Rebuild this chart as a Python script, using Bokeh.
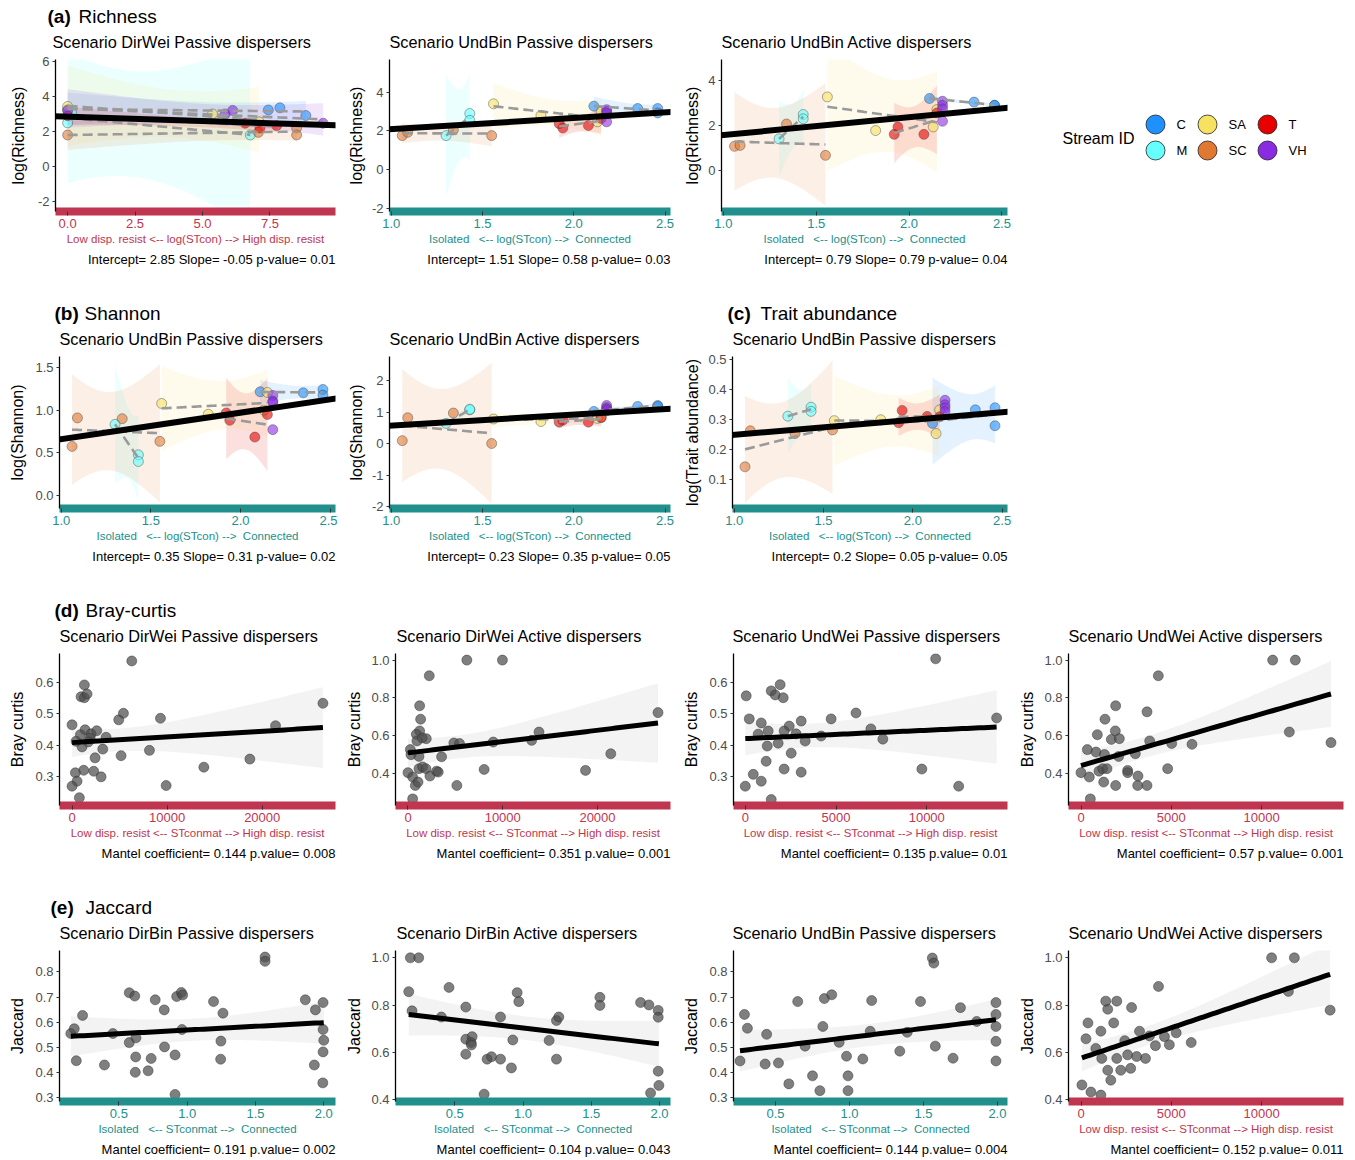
import numpy as np
from bokeh.plotting import figure
from bokeh.models import Range1d, FixedTicker, Title, Label, Slope, PrintfTickFormatter, Spacer
from bokeh.layouts import column, row
from bokeh.embed import file_html
from bokeh.resources import INLINE
from bokeh.core.properties import value

# ---------------- data ----------------
streams = ["C", "M", "SA", "SC", "T", "VH"]
stream_colors = ["#1E90FF", "#66FFFF", "#F7E160", "#E07832", "#E60000", "#8A2BE2"]

# UndBin scenario sites: stream and log(STcon)
und_stream = ["SC"] * 4 + ["M"] * 3 + ["SA"] * 4 + ["T"] * 4 + ["C"] * 4 + ["VH"] * 4
und_logstcon = [1.06, 1.09, 1.34, 1.55, 1.30, 1.43, 1.43, 1.56, 1.82, 2.13, 2.15,
                1.92, 1.94, 2.08, 2.15, 2.11, 2.35, 2.46, 2.46, 2.18, 2.18, 2.18, 2.18]
rich_und_passive = [1.76, 1.93, 2.05, 1.76, 1.76, 2.90, 2.55, 3.40, 2.80, 2.47, 2.97,
                    2.38, 2.15, 2.28, 2.64, 3.28, 3.16, 3.16, 2.93, 3.10, 3.00, 2.90, 2.47]
rich_und_active = [1.08, 1.12, 2.07, 0.68, 1.41, 2.49, 2.30, 3.27, 1.78, 1.94, 2.71,
                   1.61, 1.94, 1.61, 2.56, 3.20, 3.04, 2.90, 2.90, 3.08, 2.90, 2.74, 2.19]
shan_und_passive = [0.576, 0.909, 0.900, 0.635, 0.834, 0.478, 0.400, 1.077, 0.952, 1.000, 1.206,
                    0.967, 0.881, 0.685, 0.948, 1.214, 1.202, 1.241, 1.175, 1.171, 1.105, 1.090, 0.772]
shan_und_active = [0.10, 0.83, 0.98, 0.01, 0.65, 1.08, 1.10, 0.79, 0.71, 0.81, 0.85,
                   0.69, 0.75, 0.69, 0.83, 1.03, 1.19, 1.22, 1.19, 1.22, 1.15, 1.10, 1.05]
trait_und_passive = [0.143, 0.263, 0.254, 0.266, 0.312, 0.342, 0.328, 0.297, 0.300, 0.254, 0.333,
                     0.290, 0.331, 0.311, 0.310, 0.288, 0.333, 0.340, 0.280, 0.365, 0.350, 0.340, 0.328]

# DirWei scenario sites
dir_stream = ["C"] * 4 + ["M"] * 3 + ["SA"] * 3 + ["SC"] * 4 + ["T"] * 4 + ["VH"] * 4
dir_logstcon = [0.0, 7.44, 7.87, 8.83, 0.0, 0.15, 6.77, 0.0, 5.37, 7.10,
                0.0, 7.07, 8.49, 8.49, 0.0, 6.58, 7.13, 7.75, 0.0, 5.84, 6.12, 9.47]
rich_dir_passive = [3.25, 3.23, 3.35, 2.91, 2.49, 3.05, 1.80, 3.43, 3.00, 2.55,
                    1.80, 1.95, 2.20, 1.80, 2.90, 2.47, 2.20, 2.33, 3.20, 3.00, 3.20, 2.47]

# model lines reported in the panels
model_intercepts = [2.85, 1.51, 0.79, 0.35, 0.23, 0.2]
model_slopes = [-0.05, 0.58, 0.79, 0.31, 0.35, 0.05]
model_pvalues = [0.01, 0.03, 0.04, 0.02, 0.05, 0.05]

# Bray-curtis vs STconmat
bc_dirwei_pas_x = [6281, 0, 1298, 947, 1298, 1579, 1368, 877, 1053, 2000, 2596, 1900, 3579, 3228, 2421, 2281, 1228,
                   351, 526, 0, 772, 3053, 4912, 5404, 5158, 8140, 9298, 9895, 13860, 18700, 21400, 26386, 421, 1700]
bc_dirwei_pas_y = [0.670, 0.465, 0.593, 0.555, 0.552, 0.564, 0.449, 0.433, 0.394, 0.436, 0.446, 0.422, 0.425, 0.387,
                   0.359, 0.316, 0.319, 0.311, 0.284, 0.268, 0.231, 0.298, 0.481, 0.502, 0.366, 0.383, 0.486, 0.270,
                   0.329, 0.355, 0.462, 0.534, 0.412, 0.410]
bc_dirwei_act_x = [6211, 9965, 2246, 1228, 1333, 1228, 877, 947, 1509, 1930, 246, 316, 1158, 3544, 0, 491, 772, 1053,
                   1158, 1544, 1895, 2316, 3018, 3193, 491, 4842, 5439, 5158, 8035, 13053, 13825, 18737, 21403, 26386, 9000]
bc_dirwei_act_y = [1.0, 1.0, 0.917, 0.758, 0.687, 0.625, 0.607, 0.572, 0.588, 0.584, 0.526, 0.499, 0.490, 0.488,
                   0.404, 0.381, 0.336, 0.354, 0.425, 0.434, 0.425, 0.386, 0.412, 0.407, 0.265, 0.561, 0.558, 0.336,
                   0.421, 0.575, 0.619, 0.416, 0.504, 0.722, 0.566]
bc_undwei_pas_x = [10490, 50, 1430, 1920, 1650, 2090, 220, 880, 1260, 2420, 3080, 6100, 4730, 4180, 3300, 2800, 1810,
                   1210, 2530, 1150, 2140, 0, 440, 880, 3080, 1430, 13850, 11760, 9730, 7580, 6920, 2140, 710]
bc_undwei_pas_y = [0.677, 0.558, 0.574, 0.594, 0.561, 0.552, 0.484, 0.471, 0.445, 0.461, 0.477, 0.503, 0.484, 0.429,
                   0.413, 0.436, 0.406, 0.397, 0.374, 0.348, 0.323, 0.268, 0.306, 0.284, 0.313, 0.225, 0.487, 0.268,
                   0.323, 0.419, 0.452, 0.445, 0.435]
bc_undwei_act_x = [10609, 11863, 4280, 1919, 1328, 1900, 904, 1679, 2122, 350, 830, 1300, 2085, 0, 461, 517, 1255,
                   1919, 3137, 3653, 996, 1199, 1439, 2583, 2583, 3155, 4797, 3801, 3653, 5018, 6144, 3007, 11531, 13838]
bc_undwei_act_y = [1.0, 1.0, 0.917, 0.758, 0.687, 0.625, 0.605, 0.580, 0.584, 0.526, 0.513, 0.500, 0.490, 0.404,
                   0.381, 0.265, 0.354, 0.336, 0.336, 0.336, 0.412, 0.425, 0.425, 0.416, 0.404, 0.386, 0.425, 0.572,
                   0.726, 0.558, 0.554, 0.504, 0.619, 0.563]

# Jaccard vs STconmat
jac_dirbin_pas_x = [0.148, 0.173, 0.234, 0.188, 0.394, 0.456, 0.576, 0.576, 0.616, 0.625, 0.623, 0.620, 0.714, 0.736,
                    0.766, 0.832, 0.834, 0.911, 0.911, 0.923, 0.957, 0.967, 1.193, 1.247, 1.245, 1.262, 1.570, 1.570,
                    1.865, 1.939, 1.931, 1.995, 1.995, 2.0, 1.995, 1.993, 0.962]
jac_dirbin_pas_y = [0.555, 0.574, 0.627, 0.447, 0.430, 0.555, 0.519, 0.717, 0.704, 0.538, 0.462, 0.401, 0.407, 0.456,
                    0.689, 0.649, 0.502, 0.470, 0.313, 0.702, 0.718, 0.708, 0.682, 0.525, 0.453, 0.636, 0.859, 0.842,
                    0.689, 0.649, 0.430, 0.678, 0.571, 0.528, 0.482, 0.359, 0.571]
jac_dirbin_act_x = [0.175, 0.236, 0.163, 0.187, 0.458, 0.402, 0.581, 0.581, 0.581, 0.627, 0.620, 0.622, 0.737, 0.769,
                    0.835, 0.835, 0.715, 0.925, 0.915, 0.957, 0.969, 1.191, 1.245, 1.262, 1.245, 1.563, 1.563, 1.861,
                    1.922, 1.934, 1.990, 1.990, 1.990, 1.995]
jac_dirbin_act_y = [1.0, 1.0, 0.857, 0.776, 0.875, 0.750, 0.792, 0.656, 0.593, 0.667, 0.642, 0.632, 0.572, 0.582,
                    0.750, 0.572, 0.424, 0.653, 0.535, 0.853, 0.815, 0.651, 0.735, 0.750, 0.572, 0.833, 0.799, 0.811,
                    0.801, 0.429, 0.778, 0.749, 0.521, 0.461]
jac_undbin_pas_x = [0.29, 0.31, 0.44, 0.26, 0.43, 0.65, 0.83, 0.88, 1.15, 1.14, 1.48, 1.56, 1.57, 1.58, 1.70, 1.99,
                    1.99, 1.99, 1.99, 1.99, 0.98, 0.99, 0.99, 0.70, 0.82, 0.93, 1.09, 1.34, 1.39, 0.75, 0.59, 0.52,
                    1.75, 1.86, 0.80]
jac_undbin_pas_y = [0.631, 0.576, 0.552, 0.446, 0.434, 0.682, 0.694, 0.709, 0.686, 0.564, 0.682, 0.855, 0.835, 0.505,
                    0.457, 0.678, 0.631, 0.583, 0.524, 0.446, 0.465, 0.387, 0.328, 0.505, 0.583, 0.520, 0.454, 0.485,
                    0.560, 0.387, 0.355, 0.438, 0.658, 0.603, 0.328]
jac_undwei_act_x = [10550, 11810, 11480, 13790, 4290, 1980, 1480, 2800, 1810, 385, 1100, 3240, 3790, 2420, 6100, 820,
                    1150, 1980, 1480, 2200, 2580, 3570, 4620, 5270, 50, 550, 1100, 2750, 4120, 1650, 3080, 4890, 275, 1370]
jac_undwei_act_y = [1.0, 1.0, 0.858, 0.779, 0.879, 0.817, 0.783, 0.790, 0.725, 0.725, 0.690, 0.690, 0.670, 0.650,
                    0.642, 0.617, 0.575, 0.575, 0.525, 0.525, 0.590, 0.575, 0.667, 0.683, 0.463, 0.433, 0.420, 0.533,
                    0.629, 0.483, 0.583, 0.633, 0.658, 0.817]

mantel_r = [0.144, 0.351, 0.135, 0.57, 0.191, 0.104, 0.144, 0.152]
mantel_p = ["0.008", "0.001", "0.01", "0.001", "0.002", "0.043", "0.004", "0.011"]

# panel headers and scenario titles
header_tags = ["(a)", "(b)", "(c)", "(d)", "(e)"]
header_names = ["Richness", "Shannon", "Trait abundance", "Bray-curtis", "Jaccard"]
titles_a = ["Scenario DirWei Passive dispersers", "Scenario UndBin Passive dispersers",
            "Scenario UndBin Active dispersers"]
titles_b = ["Scenario UndBin Passive dispersers", "Scenario UndBin Active dispersers",
            "Scenario UndBin Passive dispersers"]
titles_d = ["Scenario DirWei Passive dispersers", "Scenario DirWei Active dispersers",
            "Scenario UndWei Passive dispersers", "Scenario UndWei Active dispersers"]
titles_e = ["Scenario DirBin Passive dispersers", "Scenario DirBin Active dispersers",
            "Scenario UndBin Passive dispersers", "Scenario UndWei Active dispersers"]

# ---------------- style ----------------
FONT = "Liberation Sans"
CRIMSON = "#C0354F"
TEAL = "#21908C"
W = 337
STRIP = 52
H = 245
H_LAST = 216
FTOP = 7
FBOT = 159
FBOT_LAST = 158
T_Q = {1: 12.706, 2: 4.303, 3: 3.182, 4: 2.776, 5: 2.571, 6: 2.447}
NB = "\u00a0"

XLAB_RES_LOG = "Low disp. resist <-- log(STcon) --> High disp. resist"
XLAB_CON_LOG = "Isolated" + NB + NB + " <-- log(STcon) -->" + NB + " Connected"
XLAB_RES_MAT = "Low disp. resist <-- STconmat --> High disp. resist"
XLAB_CON_MAT = "Isolated" + NB + NB + " <-- STconmat -->" + NB + " Connected"


def lm_band(x, y, n_pts=60):
    x = np.asarray(x, float)
    y = np.asarray(y, float)
    n = len(x)
    xbar = x.mean()
    sxx = ((x - xbar) ** 2).sum()
    if n < 3 or sxx < 1e-9:
        return None
    b = ((x - xbar) * (y - y.mean())).sum() / sxx
    a = y.mean() - b * xbar
    df = n - 2
    s = np.sqrt(((y - a - b * x) ** 2).sum() / df)
    t = T_Q.get(df, 2.035)
    xs = np.linspace(x.min(), x.max(), n_pts)
    fit = a + b * xs
    se = s * np.sqrt(1.0 / n + (xs - xbar) ** 2 / sxx)
    return xs, fit, fit - t * se, fit + t * se


def base_fig(height, fbot, left, right, xr, yr, xticks, yticks, xfmt, yfmt,
             ylabel, ylab_sd, xlabel, xcolor, note):
    p = figure(width=W, height=height, x_range=Range1d(*xr), y_range=Range1d(*yr),
               output_backend="svg", toolbar_location=None, title=None,
               min_border_left=left, min_border_right=right, min_border_top=FTOP,
               min_border_bottom=height - fbot)
    p.outline_line_color = None
    p.grid.visible = False
    p.background_fill_color = "white"

    xa = p.xaxis[0]
    xa.ticker = FixedTicker(ticks=xticks)
    xa.formatter = PrintfTickFormatter(format=xfmt)
    xa.axis_line_color = xcolor
    xa.axis_line_width = 8
    xa.major_tick_line_color = "#333333"
    xa.major_tick_out = 4
    xa.major_tick_in = 0
    xa.minor_tick_line_color = None
    xa.major_label_text_color = xcolor
    xa.major_label_text_font = FONT
    xa.major_label_text_font_size = "13px"
    xa.major_label_standoff = 3
    xa.axis_label = xlabel
    xa.axis_label_text_color = xcolor
    xa.axis_label_text_font = FONT
    xa.axis_label_text_font_size = "11.5px"
    xa.axis_label_text_font_style = "normal"
    xa.axis_label_standoff = 2

    ya = p.yaxis[0]
    ya.ticker = FixedTicker(ticks=yticks)
    ya.formatter = PrintfTickFormatter(format=yfmt)
    ya.axis_line_color = "black"
    ya.axis_line_width = 1.3
    ya.major_tick_line_color = "#333333"
    ya.major_tick_out = 3
    ya.major_tick_in = 0
    ya.minor_tick_line_color = None
    ya.major_label_text_color = "#4D4D4D"
    ya.major_label_text_font = FONT
    ya.major_label_text_font_size = "13px"
    ya.major_label_standoff = 3
    ya.axis_label = ylabel
    ya.axis_label_text_color = "black"
    ya.axis_label_text_font = FONT
    ya.axis_label_text_font_size = "16px"
    ya.axis_label_text_font_style = "normal"
    ya.axis_label_standoff = ylab_sd

    p.add_layout(Title(text=note, align="right", text_font=FONT, text_font_size="13px",
                       text_font_style="normal", text_color="black", standoff=4), "below")
    return p


def header_strip(heads, subs, sub_x):
    s = figure(width=4 * W, height=STRIP, x_range=Range1d(0, 4 * W), y_range=Range1d(STRIP, 0),
               output_backend="svg", toolbar_location=None, min_border=0, title=None,
               x_axis_location=None, y_axis_location=None)
    s.outline_line_color = None
    s.grid.visible = False
    for k, tag_x, name_x in heads:
        s.add_layout(Label(x=tag_x, y=16, text=header_tags[k], text_font=FONT, text_font_style="bold",
                           text_font_size="19px", text_baseline="middle", text_color="black"))
        s.add_layout(Label(x=name_x, y=16, text=header_names[k], text_font=FONT, text_font_style="normal",
                           text_font_size="19px", text_baseline="middle", text_color="black"))
    for txt, x in zip(subs, sub_x):
        s.add_layout(Label(x=x, y=41, text=txt, text_font=FONT, text_font_style="normal",
                           text_font_size="16.3px", text_baseline="middle", text_color="black"))
    return s


def draw_streams(p, sid, xs, ys, k):
    sid = np.asarray(sid)
    xs = np.asarray(xs, float)
    ys = np.asarray(ys, float)
    fits = []
    for s, col in zip(streams, stream_colors):
        m = sid == s
        band = lm_band(xs[m], ys[m])
        if band is not None:
            p.varea(x=band[0], y1=band[2], y2=band[3], fill_color=col, fill_alpha=0.12)
            fits.append(band)
    for s, col in zip(streams, stream_colors):
        m = sid == s
        p.scatter(xs[m], ys[m], size=10, fill_color=col, fill_alpha=0.6,
                  line_color="#404040", line_alpha=0.55, line_width=0.8)
    for band in fits:
        p.line(band[0], band[1], line_color="#9A9A9A", line_width=2.6, line_dash="10 5")
    p.add_layout(Slope(gradient=model_slopes[k], y_intercept=model_intercepts[k],
                       line_color="black", line_width=6))


def draw_gray(p, x, y):
    band = lm_band(x, y)
    p.varea(x=band[0], y1=band[2], y2=band[3], fill_color="#9A9A9A", fill_alpha=0.12)
    p.scatter(x, y, size=10, fill_color="#4D4D4D", fill_alpha=0.72,
              line_color="#333333", line_alpha=0.6, line_width=0.8)
    p.line(band[0], band[1], line_color="black", line_width=5)


def lm_note(k):
    return "Intercept= %s Slope= %s p-value= %s" % (model_intercepts[k], model_slopes[k], model_pvalues[k])


def mantel_note(k):
    return "Mantel coefficient= %s p.value= %s" % (mantel_r[k], mantel_p[k])


UND_XR = (0.99, 2.53)
UND_XT = [1.0, 1.5, 2.0, 2.5]

# ---------------- row (a) ----------------
a1 = base_fig(H, FBOT, 55, 2, (-0.45, 9.93), (-2.57, 6.11), [0, 2.5, 5, 7.5], [-2, 0, 2, 4, 6], "%.1f", "%d",
              "log(Richness)", 8, XLAB_RES_LOG, CRIMSON, lm_note(0))
draw_streams(a1, dir_stream, dir_logstcon, rich_dir_passive, 0)

a2 = base_fig(H, FBOT, 52, 4, UND_XR, (-2.16, 5.69), UND_XT, [-2, 0, 2, 4], "%.1f", "%d",
              "log(Richness)", 4, XLAB_CON_LOG, TEAL, lm_note(1))
draw_streams(a2, und_stream, und_logstcon, rich_und_passive, 1)

a3 = base_fig(H, FBOT, 47, 4, UND_XR, (-1.81, 4.93), UND_XT, [0, 2, 4], "%.1f", "%d",
              "log(Richness)", 4, XLAB_CON_LOG, TEAL, lm_note(2))
draw_streams(a3, und_stream, und_logstcon, rich_und_active, 2)

# legend panel (coordinates in page pixels)
leg_x = [1155, 1155, 1207, 1207, 1267, 1267]
leg_y = [124, 150, 124, 150, 124, 150]
leg = figure(width=W, height=H, x_range=Range1d(3 * W, 4 * W), y_range=Range1d(STRIP + FBOT, STRIP + FTOP),
             output_backend="svg", toolbar_location=None, min_border_left=0, min_border_right=0,
             min_border_top=FTOP, min_border_bottom=H - FBOT, title=None,
             x_axis_location=None, y_axis_location=None)
leg.outline_line_color = None
leg.grid.visible = False
leg.scatter(leg_x, leg_y, size=19, fill_color=stream_colors, line_color="#222222", line_width=0.8)
leg.text([x + 21 for x in leg_x], leg_y, text=streams, text_font=value(FONT), text_font_size="13px",
         text_baseline="middle", text_color="black")
leg.add_layout(Label(x=1062, y=138, text="Stream ID", text_font=FONT, text_font_size="16px",
                     text_baseline="middle", text_color="black"))

# ---------------- row (b)/(c) ----------------
b1 = base_fig(H, FBOT, 59, 2, UND_XR, (-0.149, 1.626), UND_XT, [0.0, 0.5, 1.0, 1.5], "%.1f", "%.1f",
              "log(Shannon)", 6, XLAB_CON_LOG, TEAL, lm_note(3))
draw_streams(b1, und_stream, und_logstcon, shan_und_passive, 3)

b2 = base_fig(H, FBOT, 52, 4, UND_XR, (-2.06, 2.78), UND_XT, [-2, -1, 0, 1, 2], "%.1f", "%d",
              "log(Shannon)", 4, XLAB_CON_LOG, TEAL, lm_note(4))
draw_streams(b2, und_stream, und_logstcon, shan_und_active, 4)

c1 = base_fig(H, FBOT, 58, 4, UND_XR, (0.004, 0.511), UND_XT, [0.1, 0.2, 0.3, 0.4, 0.5], "%.1f", "%.1f",
              "log(Trait abundance)", 4, XLAB_CON_LOG, TEAL, lm_note(5))
draw_streams(c1, und_stream, und_logstcon, trait_und_passive, 5)

# ---------------- row (d) ----------------
d_yr_p = (0.206, 0.694)
d_yr_a = (0.23, 1.035)
d1 = base_fig(H, FBOT, 59, 2, (-1319, 27705), d_yr_p, [0, 10000, 20000], [0.3, 0.4, 0.5, 0.6], "%d", "%.1f",
              "Bray curtis", 6, XLAB_RES_MAT, CRIMSON, mantel_note(0))
draw_gray(d1, bc_dirwei_pas_x, bc_dirwei_pas_y)

d2 = base_fig(H, FBOT, 58, 4, (-1319, 27705), d_yr_a, [0, 10000, 20000], [0.4, 0.6, 0.8, 1.0], "%d", "%.1f",
              "Bray curtis", 5, XLAB_RES_MAT, CRIMSON, mantel_note(1))
draw_gray(d2, bc_dirwei_act_x, bc_dirwei_act_y)

d3 = base_fig(H, FBOT, 59, 4, (-650, 14450), d_yr_p, [0, 5000, 10000], [0.3, 0.4, 0.5, 0.6], "%d", "%.1f",
              "Bray curtis", 6, XLAB_RES_MAT, CRIMSON, mantel_note(2))
draw_gray(d3, bc_undwei_pas_x, bc_undwei_pas_y)

d4 = base_fig(H, FBOT, 57, 5, (-692, 14530), d_yr_a, [0, 5000, 10000], [0.4, 0.6, 0.8, 1.0], "%d", "%.1f",
              "Bray curtis", 5, XLAB_RES_MAT, CRIMSON, mantel_note(3))
draw_gray(d4, bc_undwei_act_x, bc_undwei_act_y)

# ---------------- row (e) ----------------
e_yr_p = (0.285, 0.885)
e_yr_a = (0.393, 1.031)
e1 = base_fig(H_LAST, FBOT_LAST, 59, 2, (0.065, 2.086), e_yr_p, [0.5, 1.0, 1.5, 2.0],
              [0.3, 0.4, 0.5, 0.6, 0.7, 0.8], "%.1f", "%.1f",
              "Jaccard", 6, XLAB_CON_MAT, TEAL, mantel_note(4))
draw_gray(e1, jac_dirbin_pas_x, jac_dirbin_pas_y)

e2 = base_fig(H_LAST, FBOT_LAST, 58, 4, (0.066, 2.08), e_yr_a, [0.5, 1.0, 1.5, 2.0], [0.4, 0.6, 0.8, 1.0],
              "%.1f", "%.1f", "Jaccard", 5, XLAB_CON_MAT, TEAL, mantel_note(5))
draw_gray(e2, jac_dirbin_act_x, jac_dirbin_act_y)

e3 = base_fig(H_LAST, FBOT_LAST, 59, 4, (0.216, 2.068), e_yr_p, [0.5, 1.0, 1.5, 2.0],
              [0.3, 0.4, 0.5, 0.6, 0.7, 0.8], "%.1f", "%.1f",
              "Jaccard", 6, XLAB_CON_MAT, TEAL, mantel_note(6))
draw_gray(e3, jac_undbin_pas_x, jac_undbin_pas_y)

e4 = base_fig(H_LAST, FBOT_LAST, 57, 5, (-692, 14530), e_yr_a, [0, 5000, 10000], [0.4, 0.6, 0.8, 1.0],
              "%d", "%.1f", "Jaccard", 5, XLAB_RES_MAT, CRIMSON, mantel_note(7))
draw_gray(e4, jac_undwei_act_x, jac_undwei_act_y)

layout = column(
    header_strip([(0, 47, 78)], titles_a, [52, 389, 721]),
    row(a1, a2, a3, leg),
    header_strip([(1, 54, 84), (2, 727, 760)], titles_b, [59, 389, 732]),
    row(b1, b2, c1, Spacer(width=W, height=H)),
    header_strip([(3, 54, 85)], titles_d, [59, 396, 732, 1068]),
    row(d1, d2, d3, d4),
    header_strip([(4, 50, 85)], titles_e, [59, 396, 732, 1068]),
    row(e1, e2, e3, e4),
)

with open("out.html", "w") as f:
    f.write(file_html(layout, INLINE))
